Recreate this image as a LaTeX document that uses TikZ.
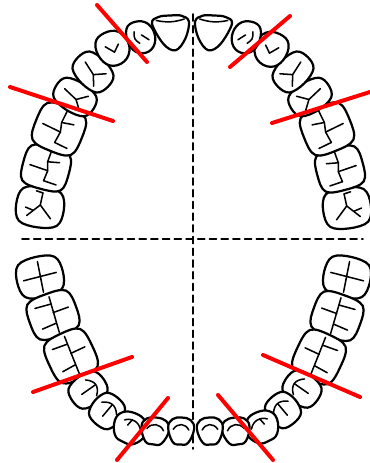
\documentclass[tikz,border=0pt]{standalone}
\usepackage{tikz}
\begin{document}
\begin{tikzpicture}[line cap=round,line join=round,x=0.03cm,y=-0.03cm,
  tooth/.style={line width=1.9pt,fill=white},
  groove/.style={line width=1.3pt},
  cutline/.style={line width=3.4pt,red},
  midline/.style={line width=1.3pt,dash pattern=on 6pt off 4pt},
  uincisor/.pic={
    \draw[tooth] plot[smooth cycle,tension=0.6] coordinates {(-0.5,-0.3) (-0.3,-0.48) (0,-0.5) (0.3,-0.48) (0.5,-0.3) (0.38,0.18) (0.1,0.5) (-0.22,0.3)};
    \draw[groove] (-0.38,-0.38) .. controls (-0.1,-0.3) and (0.1,-0.3) .. (0.38,-0.38);},
  ulateral/.pic={
    \draw[tooth] plot[smooth cycle,tension=0.7] coordinates {(-0.5,0) (-0.3,-0.45) (0.1,-0.5) (0.45,-0.25) (0.45,0.2) (0.1,0.5) (-0.35,0.4)};
    \draw[groove] (-0.12,-0.25) .. controls (-0.25,-0.05) .. (-0.15,0.15);
    \draw[groove] (0.05,-0.05) -- (0.2,0.2);},
  ucanine/.pic={
    \draw[tooth] plot[smooth cycle,tension=0.7] coordinates {(-0.5,0) (-0.3,-0.45) (0.1,-0.5) (0.45,-0.25) (0.45,0.2) (0.1,0.5) (-0.35,0.4)};
    \draw[groove] (-0.15,-0.18) -- (-0.05,0.12) -- (0.2,0.02);},
  upremolar/.pic={
    \draw[tooth] plot[smooth cycle,tension=0.6] coordinates {(0.5,0) (0.38,0.4) (0,0.5) (-0.38,0.4) (-0.5,0) (-0.38,-0.4) (0,-0.5) (0.38,-0.4)};
    \draw[groove] (-0.05,0.05) -- (0.05,-0.3);
    \draw[groove] (-0.3,0.25) -- (-0.05,0.05) -- (0.25,0.25);},
  umolar/.pic={
    \draw[tooth] plot[smooth cycle,tension=0.6] coordinates {(0.5,0) (0.42,0.42) (0,0.5) (-0.42,0.42) (-0.5,0) (-0.42,-0.42) (0,-0.5) (0.42,-0.42)};
    \draw[groove] (0.42,0.02) -- (0.15,0) -- (-0.05,0.05) -- (-0.3,0.02);
    \draw[groove] (-0.05,0.05) -- (-0.02,-0.35);
    \draw[groove] (0.15,0) -- (0.2,0.25);
    \draw[groove] (-0.3,0.02) -- (-0.32,0.3);},
  uwisdom/.pic={
    \draw[tooth] plot[smooth cycle,tension=0.6] coordinates {(0.5,0) (0.4,0.4) (0,0.5) (-0.4,0.4) (-0.5,0) (-0.4,-0.4) (0,-0.5) (0.4,-0.4)};
    \draw[groove] (0.35,0.02) -- (0.05,0) -- (-0.25,-0.25);
    \draw[groove] (0.05,0) -- (-0.25,0.25);
    \draw[groove] (0.35,0.02) -- (0.38,-0.12);
    \draw[groove] (-0.1,-0.14) -- (-0.05,-0.3);},
  lincisor/.pic={
    \draw[tooth] plot[smooth cycle,tension=0.7] coordinates {(-0.5,0.1) (-0.35,0.42) (0,0.5) (0.35,0.42) (0.5,0.1) (0.3,-0.42) (0,-0.5) (-0.3,-0.42)};
    \draw[groove] (-0.3,0.05) .. controls (-0.15,0.3) and (0.15,0.3) .. (0.3,0.05);},
  lcanine/.pic={
    \draw[tooth] plot[smooth cycle,tension=0.7] coordinates {(-0.5,0.05) (-0.3,0.42) (0.05,0.5) (0.4,0.35) (0.5,0) (0.3,-0.42) (0,-0.5) (-0.32,-0.4)};
    \draw[groove] (-0.3,0.1) .. controls (-0.15,0.32) and (0.1,0.32) .. (0.25,0.15);
    \draw[groove] (0.05,0.28) -- (0.1,0.05);},
  lpremolar/.pic={
    \draw[tooth] plot[smooth cycle,tension=0.6] coordinates {(0.5,0) (0.38,0.4) (0,0.5) (-0.38,0.4) (-0.5,0) (-0.38,-0.4) (0,-0.5) (0.38,-0.4)};
    \draw[groove] (-0.3,0.1) .. controls (-0.1,0.3) and (0.1,0.3) .. (0.3,0.1);
    \draw[groove] (0,0.24) -- (0,-0.2);},
  lmolar/.pic={
    \draw[tooth] plot[smooth cycle,tension=0.6] coordinates {(0.5,0) (0.42,0.42) (0,0.5) (-0.42,0.42) (-0.5,0) (-0.42,-0.42) (0,-0.5) (0.42,-0.42)};
    \draw[groove] (-0.42,0) -- (0.42,0.05);
    \draw[groove] (-0.2,0) -- (-0.22,-0.3);
    \draw[groove] (0.05,0.02) -- (0.05,0.35);
    \draw[groove] (0.25,0.04) -- (0.28,-0.3);},
  lwisdom/.pic={
    \draw[tooth] plot[smooth cycle,tension=0.6] coordinates {(0.5,0) (0.4,0.4) (0,0.5) (-0.4,0.4) (-0.5,0) (-0.4,-0.4) (0,-0.5) (0.4,-0.4)};
    \draw[groove] (-0.38,0) -- (0.38,0.02);
    \draw[groove] (0,-0.36) -- (0.02,0.36);}]
\useasboundingbox (0,0) rectangle (370,463);

\draw[midline] (193,14) -- (193,449);
\draw[midline] (22,239) -- (363,239);

\pic[rotate=82,xscale=41,yscale=48] at (40,207) {uwisdom};
\pic[rotate=75,xscale=43,yscale=47] at (46,168) {umolar};
\pic[rotate=68,xscale=47,yscale=49] at (59,129) {umolar};
\pic[rotate=58,xscale=31,yscale=44] at (75,97) {upremolar};
\pic[rotate=45,xscale=32,yscale=42] at (93,72) {upremolar};
\pic[rotate=42,xscale=33,yscale=34] at (113,48) {ucanine};
\pic[rotate=30,xscale=28,yscale=32] at (141,37) {ulateral};
\pic[rotate=3,xscale=37,yscale=35] at (171,33) {uincisor};

\pic[rotate=-82,xscale=-41,yscale=48] at (347,208) {uwisdom};
\pic[rotate=-75,xscale=-43,yscale=47] at (340,169) {umolar};
\pic[rotate=-68,xscale=-47,yscale=49] at (327,129) {umolar};
\pic[rotate=-58,xscale=-31,yscale=44] at (310,97) {upremolar};
\pic[rotate=-45,xscale=-32,yscale=42] at (293,72) {upremolar};
\pic[rotate=-42,xscale=-33,yscale=34] at (271,49) {ucanine};
\pic[rotate=-30,xscale=-28,yscale=32] at (246,37) {ulateral};
\pic[rotate=-3,xscale=-37,yscale=35] at (213,33) {uincisor};

\pic[rotate=103,xscale=41,yscale=47] at (40,277) {lwisdom};
\pic[rotate=110,xscale=44,yscale=49] at (53,315) {lmolar};
\pic[rotate=115,xscale=49,yscale=47] at (71,356) {lmolar};
\pic[rotate=125,xscale=32,yscale=38] at (88,390) {lpremolar};
\pic[rotate=140,xscale=32,yscale=34] at (107,411) {lpremolar};
\pic[rotate=152,xscale=34,yscale=31] at (130,428) {lcanine};
\pic[rotate=172,xscale=28,yscale=27] at (155,431) {lincisor};
\pic[rotate=177,xscale=26,yscale=27] at (181,431) {lincisor};

\pic[rotate=257,xscale=-41,yscale=47] at (347,277) {lwisdom};
\pic[rotate=250,xscale=-44,yscale=49] at (337,316) {lmolar};
\pic[rotate=245,xscale=-49,yscale=47] at (319,357) {lmolar};
\pic[rotate=235,xscale=-32,yscale=38] at (302,389) {lpremolar};
\pic[rotate=220,xscale=-32,yscale=34] at (283,410) {lpremolar};
\pic[rotate=208,xscale=-34,yscale=31] at (262,427) {lcanine};
\pic[rotate=188,xscale=-28,yscale=27] at (236,431) {lincisor};
\pic[rotate=183,xscale=-26,yscale=27] at (210,431) {lincisor};

\draw[cutline] (97,5) -- (147,62);
\draw[cutline] (10,87) -- (113,121);
\draw[cutline] (230,67) -- (290,16);
\draw[cutline] (272,123) -- (370,92);
\draw[cutline] (33,392) -- (132,357);
\draw[cutline] (117,460) -- (168,398);
\draw[cutline] (263,355) -- (360,397);
\draw[cutline] (218,395) -- (273,460);
\end{tikzpicture}
\end{document}
